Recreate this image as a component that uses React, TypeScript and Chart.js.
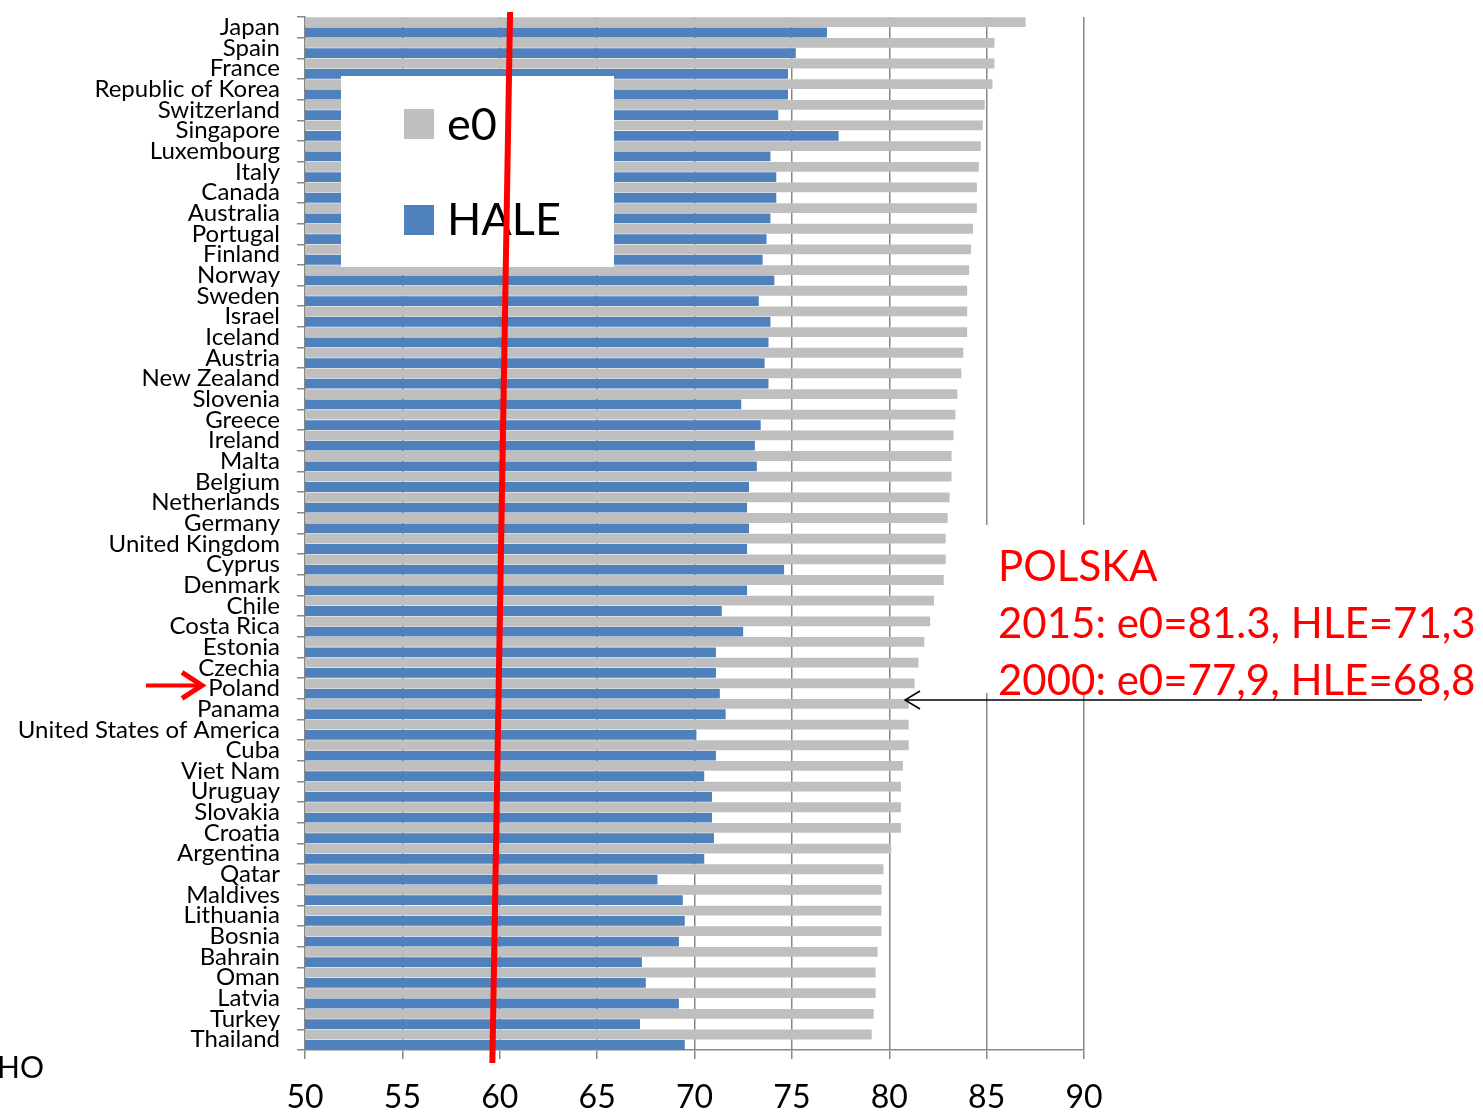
import React, { useEffect, useRef } from "react";
import { Chart, registerables } from "chart.js";

Chart.register(...registerables);

const countries = [
  "Japan", "Spain", "France", "Republic of Korea", "Switzerland", "Singapore", "Luxembourg", "Italy",
  "Canada", "Australia", "Portugal", "Finland", "Norway", "Sweden", "Israel", "Iceland", "Austria",
  "New Zealand", "Slovenia", "Greece", "Ireland", "Malta", "Belgium", "Netherlands", "Germany",
  "United Kingdom", "Cyprus", "Denmark", "Chile", "Costa Rica", "Estonia", "Czechia", "Poland",
  "Panama", "United States of America", "Cuba", "Viet Nam", "Uruguay", "Slovakia", "Croatia",
  "Argentina", "Qatar", "Maldives", "Lithuania", "Bosnia", "Bahrain", "Oman", "Latvia", "Turkey",
  "Thailand",
];

const e0Values = [
  87.0, 85.4, 85.4, 85.3, 84.9, 84.8, 84.7, 84.6, 84.5, 84.5, 84.3, 84.2, 84.1, 84.0, 84.0, 84.0,
  83.8, 83.7, 83.5, 83.4, 83.3, 83.2, 83.2, 83.1, 83.0, 82.9, 82.9, 82.8, 82.3, 82.1, 81.8, 81.5,
  81.3, 81.0, 81.0, 81.0, 80.7, 80.6, 80.6, 80.6, 80.1, 79.7, 79.6, 79.6, 79.6, 79.4, 79.3, 79.3,
  79.2, 79.1,
];

const haleValues = [
  76.8, 75.2, 74.8, 74.8, 74.3, 77.4, 73.9, 74.2, 74.2, 73.9, 73.7, 73.5, 74.1, 73.3, 73.9, 73.8,
  73.6, 73.8, 72.4, 73.4, 73.1, 73.2, 72.8, 72.7, 72.8, 72.7, 74.6, 72.7, 71.4, 72.5, 71.1, 71.1,
  71.3, 71.6, 70.1, 71.1, 70.5, 70.9, 70.9, 71.0, 70.5, 68.1, 69.4, 69.5, 69.2, 67.3, 67.5, 69.2,
  67.2, 69.5,
];

const xMin = 50;
const xMax = 90;
const xStep = 5;
const seriesNames = ["e0", "HALE"];
const noteLines = ["POLSKA", "2015: e0=81.3, HLE=71,3", "2000: e0=77,9, HLE=68,8"];
const sourceText = "HO";
const highlightCountry = "Poland";

const GRAY = "#BFBFBF";
const BLUE = "#4F81BD";
const GRID = "#878787";
const RED = "#FF0000";
const FONT = "Lato, 'Open Sans', sans-serif";

const overlayPlugin = {
  id: "overlay",
  afterDraw(chart: any) {
    const ctx = chart.ctx as CanvasRenderingContext2D;
    const xs = chart.scales.x;
    const ys = chart.scales.y;
    ctx.save();

    // legend box
    ctx.fillStyle = "#ffffff";
    ctx.fillRect(341, 76, 273, 191);
    ctx.fillStyle = GRAY;
    ctx.fillRect(404, 109, 30, 30);
    ctx.fillStyle = BLUE;
    ctx.fillRect(404, 205, 30, 30);
    ctx.fillStyle = "#000000";
    ctx.font = `45px ${FONT}`;
    ctx.textAlign = "left";
    ctx.textBaseline = "middle";
    ctx.fillText(seriesNames[0], 447, 125);
    ctx.fillText(seriesNames[1], 447, 220);

    // red vertical line
    ctx.strokeStyle = RED;
    ctx.lineWidth = 6;
    ctx.beginPath();
    ctx.moveTo(xs.getPixelForValue(60.53), 12);
    ctx.lineTo(xs.getPixelForValue(59.62), 1063);
    ctx.stroke();

    // note box
    ctx.fillStyle = "#ffffff";
    ctx.fillRect(965, 525, 518, 168);
    ctx.fillStyle = RED;
    ctx.font = `42px ${FONT}`;
    ctx.textAlign = "left";
    ctx.textBaseline = "middle";
    const ny = [567, 624, 681];
    noteLines.forEach((t, i) => ctx.fillText(t, 998, ny[i]));

    // black arrow
    ctx.strokeStyle = "#000000";
    ctx.lineWidth = 1.5;
    ctx.beginPath();
    ctx.moveTo(1422, 700);
    ctx.lineTo(906, 700);
    ctx.stroke();
    ctx.beginPath();
    ctx.moveTo(920, 691);
    ctx.lineTo(905, 700);
    ctx.lineTo(920, 709);
    ctx.stroke();

    // red arrow at Poland label
    const idx = countries.indexOf(highlightCountry);
    const py = ys.getPixelForValue(idx) - 3;
    ctx.strokeStyle = RED;
    ctx.lineWidth = 4;
    ctx.beginPath();
    ctx.moveTo(146, py);
    ctx.lineTo(200, py);
    ctx.stroke();
    ctx.lineWidth = 5;
    ctx.lineJoin = "miter";
    ctx.beginPath();
    ctx.moveTo(182, py - 13);
    ctx.lineTo(202, py);
    ctx.lineTo(182, py + 13);
    ctx.stroke();

    // source text (cut at left edge)
    ctx.fillStyle = "#000000";
    ctx.font = `30px ${FONT}`;
    ctx.textAlign = "left";
    ctx.textBaseline = "middle";
    ctx.fillText(sourceText, -3, 1068);

    ctx.restore();
  },
};

export default function App() {
  const ref = useRef<HTMLCanvasElement | null>(null);

  useEffect(() => {
    document.body.style.margin = "0";
    const canvas = ref.current;
    if (!canvas) return;
    const chart = new Chart(canvas, {
      type: "bar",
      data: {
        labels: countries,
        datasets: [
          {
            label: seriesNames[0],
            data: e0Values,
            backgroundColor: GRAY,
            barPercentage: 0.95,
            categoryPercentage: 1,
          },
          {
            label: seriesNames[1],
            data: haleValues,
            backgroundColor: BLUE,
            barPercentage: 0.95,
            categoryPercentage: 1,
          },
        ],
      },
      options: {
        indexAxis: "y",
        responsive: false,
        animation: false,
        devicePixelRatio: 1,
        layout: { padding: { top: 17, right: 399, left: 0, bottom: 0 } },
        plugins: {
          legend: { display: false },
          tooltip: { enabled: false },
          title: { display: false },
        },
        scales: {
          x: {
            min: xMin,
            max: xMax,
            ticks: {
              stepSize: xStep,
              color: "#000000",
              font: { family: FONT, size: 32 },
              padding: 19,
              maxRotation: 0,
            },
            grid: {
              color: GRID,
              lineWidth: 1.5,
              tickLength: 9,
              drawTicks: true,
            },
            border: { color: GRID, width: 1.5 },
            afterFit: (s: any) => {
              s.height = 64;
              s.paddingLeft = 0;
              s.paddingRight = 0;
            },
          },
          y: {
            ticks: {
              autoSkip: false,
              color: "#000000",
              font: { family: FONT, size: 24, lineHeight: 1 },
              padding: 17,
            },
            grid: {
              offset: true,
              drawOnChartArea: false,
              drawTicks: true,
              tickLength: 8,
              color: GRID,
              lineWidth: 1.5,
            },
            border: { color: GRID, width: 1.5 },
            afterFit: (s: any) => {
              s.width = 305;
              s.paddingTop = 0;
              s.paddingBottom = 0;
            },
          },
        },
      },
      plugins: [overlayPlugin],
    });
    return () => chart.destroy();
  }, []);

  return (
    <div style={{ position: "absolute", left: 0, top: 0, width: 1483, height: 1114, background: "#fff" }}>
      <canvas ref={ref} width={1483} height={1114} style={{ display: "block" }} />
    </div>
  );
}
